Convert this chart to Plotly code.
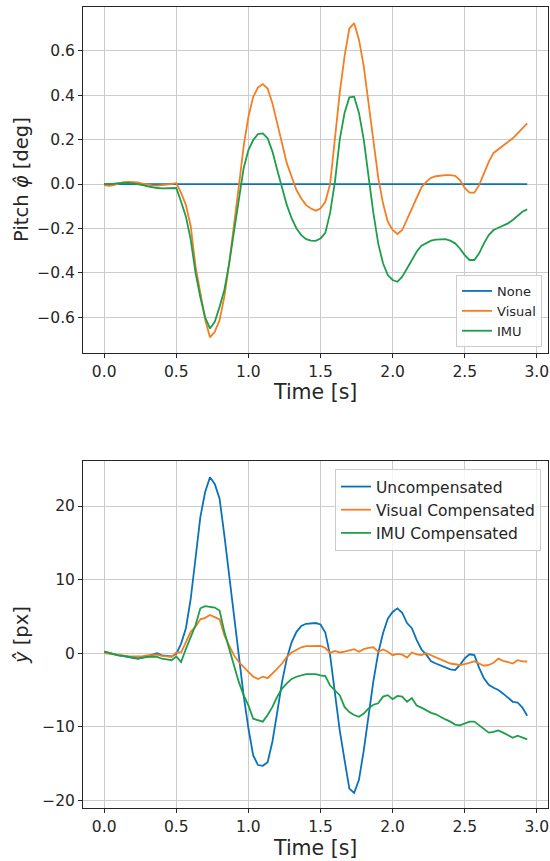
"""
Pitch estimate and vertical pixel offset over time, two stacked panels
"""

import numpy as np
import plotly.graph_objects as go
from plotly.subplots import make_subplots

# sample clock (30 fps)
time_s = np.arange(89) / 30

# top panel: pitch estimate [deg]
pitch_visual = [
    -0.005, -0.008, -0.005, 0.002, 0.008, 0.010, 0.010, 0.007, 0.002, -0.003,
    -0.006, -0.007, -0.005, -0.003, 0.000, 0.005, -0.040, -0.095, -0.190, -0.370,
    -0.490, -0.610, -0.690, -0.665, -0.613, -0.507, -0.357, -0.192, -0.012, 0.168,
    0.303, 0.393, 0.435, 0.450, 0.430, 0.363, 0.273, 0.183, 0.093, 0.033,
    -0.027, -0.065, -0.095, -0.110, -0.120, -0.110, -0.080, 0.000, 0.200, 0.410,
    0.575, 0.700, 0.724, 0.650, 0.530, 0.360, 0.180, 0.030, -0.087, -0.170,
    -0.207, -0.225, -0.207, -0.160, -0.110, -0.065, -0.015, 0.010, 0.028, 0.035,
    0.038, 0.040, 0.040, 0.037, 0.018, -0.018, -0.039, -0.039, -0.005, 0.048,
    0.100, 0.140, 0.156, 0.171, 0.186, 0.206, 0.228, 0.250, 0.273,
]
pitch_imu = [
    0.000, 0.000, 0.002, 0.004, 0.005, 0.005, 0.003, 0.000, -0.005, -0.010,
    -0.015, -0.018, -0.020, -0.020, -0.019, -0.018, -0.080, -0.147, -0.250, -0.400,
    -0.510, -0.600, -0.650, -0.620, -0.553, -0.477, -0.357, -0.207, -0.057, 0.070,
    0.153, 0.198, 0.225, 0.228, 0.206, 0.146, 0.063, -0.020, -0.095, -0.155,
    -0.200, -0.230, -0.248, -0.255, -0.256, -0.245, -0.220, -0.130, 0.010, 0.200,
    0.320, 0.390, 0.393, 0.320, 0.200, 0.033, -0.130, -0.267, -0.357, -0.410,
    -0.432, -0.440, -0.417, -0.380, -0.340, -0.305, -0.278, -0.265, -0.255, -0.250,
    -0.248, -0.248, -0.255, -0.267, -0.290, -0.320, -0.342, -0.342, -0.312, -0.267,
    -0.230, -0.207, -0.197, -0.188, -0.177, -0.162, -0.144, -0.125, -0.114,
]
pitch_none = [0.0] * len(pitch_visual)

# bottom panel: vertical offset [px]
y_uncomp = [
    0.2, 0.0, -0.2, -0.3, -0.4, -0.55, -0.7, -0.75, -0.6, -0.4,
    -0.1, 0.0, -0.3, -0.4, -0.45, -0.1, 1.3, 3.4, 7.4, 12.9,
    18.5, 21.9, 23.9, 23.0, 21.0, 16.0, 10.6, 5.2, -0.3, -5.7,
    -10.2, -13.9, -15.2, -15.3, -14.8, -12.0, -8.0, -3.9, -0.7, 1.5,
    2.9, 3.7, 4.0, 4.1, 4.1, 3.9, 2.8, -0.3, -5.5, -10.5,
    -14.5, -18.4, -19.0, -17.2, -13.2, -8.4, -3.8, 0.0, 2.7, 4.7,
    5.6, 6.1, 5.5, 4.1, 3.4, 1.8, 0.5, -0.2, -1.1, -1.4,
    -1.7, -1.9, -2.2, -2.3, -1.6, -0.7, -0.15, -0.25, -2.0, -3.4,
    -4.3, -4.7, -5.0, -5.5, -6.1, -6.6, -6.7, -7.4, -8.5,
]
y_visual = [
    0.0, -0.1, -0.2, -0.3, -0.35, -0.4, -0.45, -0.45, -0.4, -0.3,
    -0.2, -0.2, -0.35, -0.45, -0.5, 0.1, 0.1, 1.5, 2.9, 3.6,
    4.6, 4.8, 5.2, 4.9, 4.6, 2.4, 1.1, -0.3, -1.2, -1.9,
    -2.5, -3.2, -3.5, -3.2, -3.4, -2.8, -2.1, -1.4, -0.5, 0.1,
    0.5, 0.8, 0.95, 0.95, 0.9, 1.0, 0.7, 0.05, 0.3, 0.1,
    0.2, 0.4, 0.55, 0.2, 0.55, 0.72, 0.8, 0.2, 0.5, 0.2,
    -0.27, -0.1, -0.2, -0.6, 0.1, -0.15, -0.27, 0.0, -0.3, -0.6,
    -0.8, -1.2, -1.4, -1.5, -1.6, -1.5, -1.3, -1.1, -1.4, -1.7,
    -1.6, -1.3, -0.72, -1.05, -1.2, -1.4, -0.95, -1.1, -1.13,
]
y_imu = [
    0.2, 0.0, -0.15, -0.3, -0.35, -0.45, -0.6, -0.7, -0.6, -0.5,
    -0.45, -0.5, -0.75, -0.85, -0.95, -0.45, -1.2, 0.6, 2.2, 3.8,
    6.1, 6.4, 6.3, 6.2, 5.8, 2.9, 0.6, -1.6, -3.9, -5.7,
    -7.1, -8.9, -9.1, -9.3, -8.4, -7.3, -5.9, -4.8, -4.1, -3.5,
    -3.2, -3.0, -2.85, -2.85, -2.85, -3.0, -3.1, -4.4, -5.0, -5.7,
    -7.3, -8.0, -8.4, -8.65, -8.2, -7.5, -7.0, -6.8, -5.9, -5.7,
    -6.25, -5.8, -5.9, -6.6, -6.1, -7.1, -7.4, -7.8, -8.1, -8.3,
    -8.7, -9.0, -9.3, -9.7, -9.8, -9.55, -9.3, -9.3, -9.8, -10.2,
    -10.8, -10.7, -10.5, -10.8, -11.1, -11.5, -11.2, -11.5, -11.7,
]

BLUE, ORANGE, GREEN = '#0a72b8', '#f57d23', '#1d9e49'
FONT = 'DejaVu Sans'
INK = '#262626'

fig = make_subplots(rows=2, cols=1)

top = [('None', pitch_none, BLUE), ('Visual', pitch_visual, ORANGE), ('IMU', pitch_imu, GREEN)]
for name, vals, col in top:
    fig.add_trace(go.Scatter(x=time_s, y=vals, mode='lines', name=name,
                             line=dict(color=col, width=1.8), legend='legend'),
                  row=1, col=1)

bottom = [('Uncompensated', y_uncomp, BLUE), ('Visual Compensated', y_visual, ORANGE),
          ('IMU Compensated', y_imu, GREEN)]
for name, vals, col in bottom:
    fig.add_trace(go.Scatter(x=time_s, y=vals, mode='lines', name=name,
                             line=dict(color=col, width=1.8), legend='legend2'),
                  row=2, col=1)

axis_style = dict(
    showgrid=True, gridcolor='#cccccc', gridwidth=1, zeroline=False,
    showline=True, linecolor=INK, linewidth=1, mirror=True,
    ticks='outside', ticklen=4, tickcolor=INK, tickwidth=1,
    tickfont=dict(family=FONT, size=15.5, color=INK),
    automargin=False,
)

fig.update_xaxes(**axis_style, range=[-0.1467, 3.08], dtick=0.5, tickformat='.1f',
                 domain=[0.151, 0.997])
fig.update_yaxes(**axis_style)
fig.update_yaxes(range=[-0.7607, 0.7947], dtick=0.2, tickformat='.1f',
                 domain=[0.59, 0.9913], row=1, col=1)
fig.update_yaxes(range=[-21.1, 26.05], dtick=10,
                 domain=[0.061, 0.464], row=2, col=1)

# axis titles placed as paper annotations
title_font = dict(family=FONT, size=20.5, color=INK)
for ypos in (0.5447, 0.0151):
    fig.add_annotation(text='Time [s]', x=0.5736, y=ypos, xref='paper', yref='paper',
                       xanchor='center', yanchor='middle', showarrow=False, font=title_font)
for label, ypos in (('Pitch <i>φ̂</i> [deg]', 0.791), ('<i>ŷ</i> [px]', 0.2625)):
    fig.add_annotation(text=label, x=0.04, y=ypos, xref='paper', yref='paper',
                       xanchor='center', yanchor='middle', textangle=-90,
                       showarrow=False, font=dict(family=FONT, size=19.5, color=INK))

fig.update_layout(
    width=550, height=861,
    margin=dict(l=0, r=0, t=0, b=0),
    paper_bgcolor='white', plot_bgcolor='white',
    font=dict(family=FONT, color=INK),
    legend=dict(x=0.9855, y=0.597, xanchor='right', yanchor='bottom',
                bgcolor='rgba(255,255,255,0.8)', bordercolor='#cccccc', borderwidth=1,
                font=dict(family=FONT, size=13, color=INK), itemwidth=30),
    legend2=dict(x=0.9836, y=0.4553, xanchor='right', yanchor='top',
                 bgcolor='rgba(255,255,255,0.8)', bordercolor='#cccccc', borderwidth=1,
                 font=dict(family=FONT, size=15.5, color=INK), itemwidth=30),
)

# page body has a default margin; drop it so the figure fills the window
fig.write_html("out.html", config={'displayModeBar': False},
               post_script="document.body.style.margin = '0';")
